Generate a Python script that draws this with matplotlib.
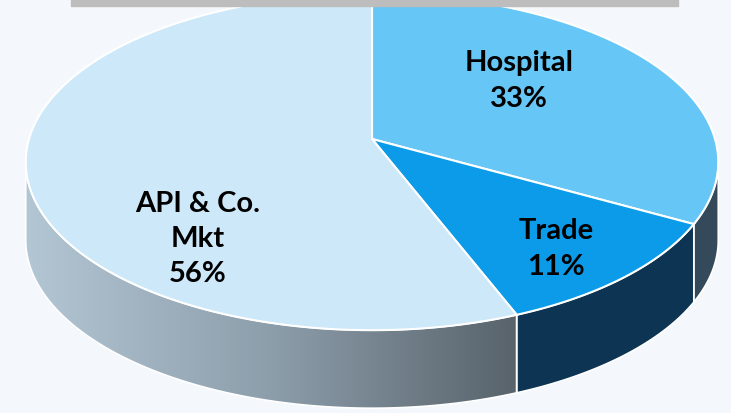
import numpy as np
import matplotlib.pyplot as plt
from matplotlib.patches import Polygon, Rectangle
from matplotlib.colors import LinearSegmentedColormap

# dados do grafico (sentido horario a partir do topo)
categorias = ["Hospital", "Trade", "API & Co.\nMkt"]
valores = [33, 11, 56]

# estilo
cor_topo = ["#66c6f6", "#0b9be8", "#cde8f8"]
cor_lado = ["#34495a", "#0d3553", None]   # None -> gradiente cinza
pos_rotulo = [(519, 81), (556, 249), (198, 239)]

# geometria do disco em perspectiva (pixels)
cx, cy = 372, 139
A, B, k = 343, 165, 0.137
prof = 78


def ponto(t, dz=0.0):
    d = 1 + k * np.sin(t)
    return cx + A * np.cos(t) / d, cy - B * np.sin(t) / d + dz


fig = plt.figure(figsize=(7.31, 4.13), dpi=100)
fig.patch.set_facecolor("#f4f7fb")
ax = fig.add_axes([0, 0, 1, 1])
ax.set_xlim(0, 731)
ax.set_ylim(413, 0)
ax.axis("off")

# barra cinza no topo
ax.add_patch(Rectangle((71, 0), 607, 6, color="#bdbdbd", zorder=5))

# angulos de cada fatia
fr = np.array(valores) / sum(valores)
bordas = np.pi / 2 - 2 * np.pi * np.concatenate([[0], np.cumsum(fr)])

cmap_cinza = LinearSegmentedColormap.from_list("cz", ["#b3c6d4", "#8d9eab", "#58636b"])

# paredes laterais (parte visivel da frente)
t_min, t_max = -np.pi + np.arcsin(k), -np.arcsin(k)
for i in range(len(valores)):
    t1, t2 = bordas[i], bordas[i + 1]
    lo, hi = max(t2, t_min), min(t1, t_max)
    if lo >= hi:
        continue
    t = np.linspace(hi, lo, 100)
    x, y = ponto(t)
    xb, yb = ponto(t, prof)
    xs = np.concatenate([x, xb[::-1]])
    ys = np.concatenate([y, yb[::-1]])
    if cor_lado[i] is None:
        pol = Polygon(np.c_[xs, ys], closed=True, facecolor="none",
                      edgecolor="white", lw=1.2, zorder=2)
        ax.add_patch(pol)
        grad = np.linspace(0, 1, 256).reshape(1, -1)
        im = ax.imshow(grad, cmap=cmap_cinza, aspect="auto",
                       extent=[xs.min(), xs.max(), ys.max(), ys.min()], zorder=1)
        im.set_clip_path(pol)
    else:
        ax.add_patch(Polygon(np.c_[xs, ys], closed=True, facecolor=cor_lado[i],
                             edgecolor="white", lw=1.2, zorder=2))

# topo das fatias
for i in range(len(valores)):
    t = np.linspace(bordas[i], bordas[i + 1], 200)
    x, y = ponto(t)
    xs = np.concatenate([[cx], x])
    ys = np.concatenate([[cy], y])
    ax.add_patch(Polygon(np.c_[xs, ys], closed=True, facecolor=cor_topo[i],
                         edgecolor="white", lw=1.5, zorder=3))

# rotulos
for i in range(len(valores)):
    ax.text(pos_rotulo[i][0], pos_rotulo[i][1], f"{categorias[i]}\n{valores[i]}%",
            ha="center", va="center", fontsize=21, fontweight="bold",
            family="Lato", color="black", linespacing=1.45, zorder=6)

fig.savefig("out.png", dpi=100, facecolor=fig.get_facecolor())
